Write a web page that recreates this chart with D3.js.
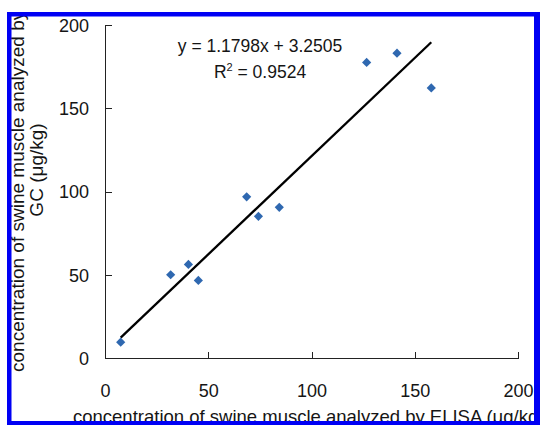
<!DOCTYPE html>
<meta charset="utf-8">
<style>
body { margin: 0; background: #fff; }
text { font-family: Arial, "Liberation Sans", sans-serif; fill: #151515; }
.axis path, .axis line { stroke: #222; stroke-width: 1; shape-rendering: crispEdges; }
.axis text { font-size: 18px; }
.fit { fill: none; stroke: #000; stroke-width: 2.3px; }
</style>
<svg width="540" height="425"></svg>
<script src="https://cdn.jsdelivr.net/npm/d3@7"></script>
<script>

// ELISA vs GC concentrations (ug/kg)
var elisa = [7.6, 31.8, 40.4, 45.2, 68.6, 74.3, 84.4, 126.7, 141.4, 158.0];
var gc    = [9.5, 50.0, 56.2, 46.6, 96.8, 85.1, 90.5, 177.5, 183.1, 162.2];

var xTicks = [0, 50, 100, 150, 200],
    yTicks = [0, 50, 100, 150, 200];

var slope = 1.1798, intercept = 3.2505, r2 = "0.9524";

var svg = d3.select("svg");

var x = d3.scaleLinear().domain([0, 200]).range([105, 518]),
    y = d3.scaleLinear().domain([0, 200]).range([358, 25]);

// x axis, ticks point inward
var gx = svg.append("g")
    .attr("class", "axis")
    .attr("transform", "translate(0," + y(0) + ")")
    .call(d3.axisTop(x).tickValues(xTicks).tickSizeInner(6).tickSizeOuter(0).tickFormat(d3.format("d")));
gx.selectAll("text").attr("y", 39).attr("dy", 0);

var gy = svg.append("g")
    .attr("class", "axis")
    .attr("transform", "translate(" + x(0) + ",0)")
    .call(d3.axisRight(y).tickValues(yTicks).tickSizeInner(7).tickSizeOuter(0).tickFormat(d3.format("d")));
gy.selectAll("text").attr("x", -16).attr("dy", "0.36em").attr("text-anchor", "end");

// trend line over the data range
var x0 = d3.min(elisa), x1 = d3.max(elisa);
svg.append("line")
    .attr("class", "fit")
    .attr("x1", x(x0)).attr("y1", y(slope * x0 + intercept))
    .attr("x2", x(x1)).attr("y2", y(slope * x1 + intercept));

// diamond markers
var pts = elisa.map(function(d, i) { return {x: d, y: gc[i]}; });
svg.selectAll(".pt")
    .data(pts)
    .enter().append("path")
    .attr("class", "pt")
    .attr("fill", "#2f68b0")
    .attr("d", function(d) {
      var cx = x(d.x), cy = y(d.y), r = 4.6;
      return "M" + cx + "," + (cy - r) + "L" + (cx + r) + "," + cy + "L" + cx + "," + (cy + r) + "L" + (cx - r) + "," + cy + "Z";
    });

// equation
svg.append("text")
    .attr("x", 260).attr("y", 52)
    .attr("text-anchor", "middle")
    .style("font-size", "17.5px")
    .text("y = " + slope + "x + " + intercept);

var rt = svg.append("text")
    .attr("x", 260).attr("y", 78)
    .attr("text-anchor", "middle")
    .style("font-size", "17.5px");
rt.append("tspan").text("R");
rt.append("tspan").attr("dy", -7).style("font-size", "11px").text("2");
rt.append("tspan").attr("dy", 7).text(" = " + r2);

// axis titles (cut by the frame, as in the original)
svg.append("text")
    .attr("x", 73).attr("y", 423)
    .style("font-size", "18.5px")
    .text("concentration of swine muscle analyzed by ELISA (\u03bcg/kg)");

svg.append("text")
    .attr("transform", "translate(24,372) rotate(-90)")
    .style("font-size", "19px")
    .text("concentration of swine muscle analyzed by");

svg.append("text")
    .attr("transform", "translate(43,170) rotate(-90)")
    .attr("text-anchor", "middle")
    .style("font-size", "19px")
    .text("GC (\u03bcg/kg)");

// blue frame drawn on top
var frame = svg.append("g").attr("fill", "#0000f4");
frame.append("rect").attr("x", 0).attr("y", 0).attr("width", 540).attr("height", 12).attr("fill", "#fff");
frame.append("rect").attr("x", 7).attr("y", 12).attr("width", 533).attr("height", 4.5);
frame.append("rect").attr("x", 7).attr("y", 12).attr("width", 4.5).attr("height", 413);
frame.append("rect").attr("x", 534).attr("y", 12).attr("width", 6).attr("height", 413);
frame.append("rect").attr("x", 7).attr("y", 421).attr("width", 533).attr("height", 4);

</script>
